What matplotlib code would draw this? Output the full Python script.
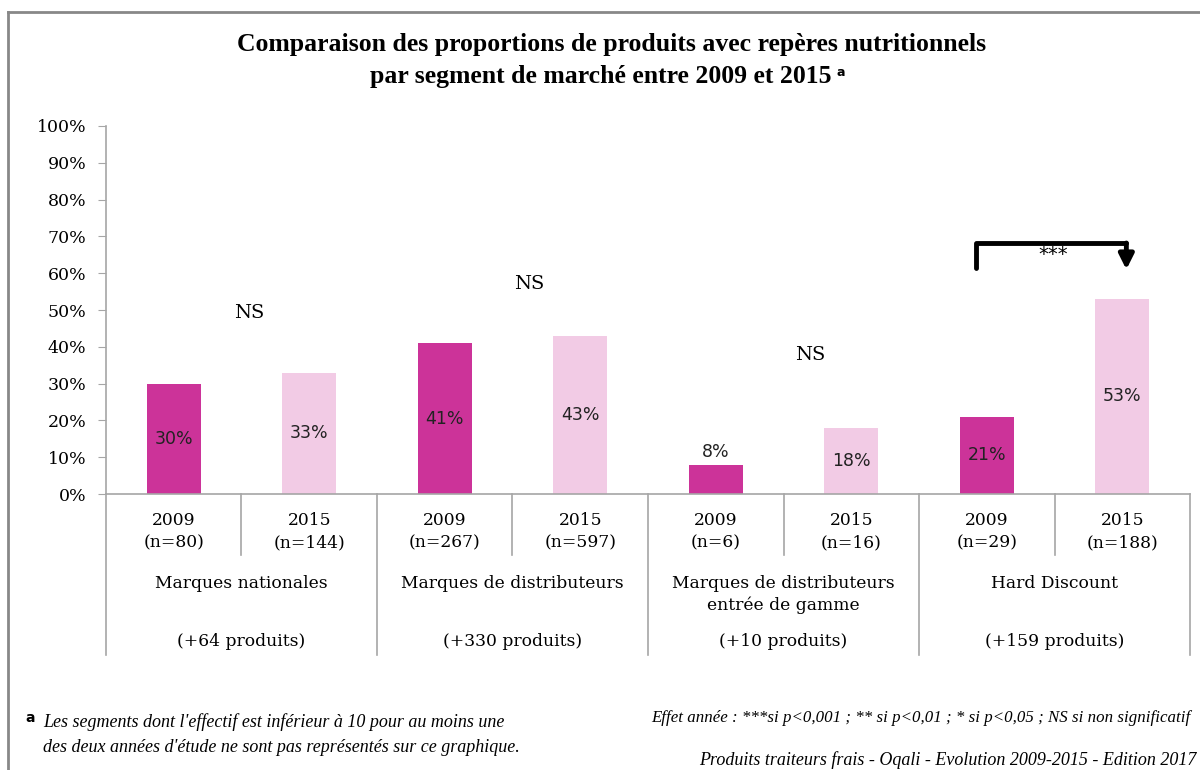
import matplotlib.pyplot as plt
from matplotlib.lines import Line2D

# Data
segments = ['Marques nationales', 'Marques de distributeurs',
            'Marques de distributeurs\nentrée de gamme', 'Hard Discount']
extra_products = ['(+64 produits)', '(+330 produits)', '(+10 produits)', '(+159 produits)']
years = ['2009', '2015'] * 4
sample_sizes = [80, 144, 267, 597, 6, 16, 29, 188]
values = [30, 33, 41, 43, 8, 18, 21, 53]
signif = ['NS', 'NS', 'NS', '***']

dark = '#CC3399'
light = '#F2CBE5'
grey = '#A6A6A6'
serif = 'DejaVu Serif'

fig = plt.figure(figsize=(12, 7.7), dpi=100)
ax = fig.add_axes([0.0883, 0.3584, 0.9034, 0.478])

x = list(range(len(values)))
colors = [dark if y == '2009' else light for y in years]
ax.bar(x, values, width=0.4, color=colors, zorder=2)

for xi, v in zip(x, values):
    if v < 10:
        ax.text(xi, v + 3.5, f'{v}%', ha='center', va='center', fontsize=12.5, color='#222222')
    else:
        ax.text(xi, v / 2, f'{v}%', ha='center', va='center', fontsize=12.5, color='#222222')

ax.set_xlim(-0.5, 7.5)
ax.set_ylim(0, 100)
ax.set_yticks(range(0, 101, 10))
ax.set_yticklabels([f'{t}%' for t in range(0, 101, 10)], family=serif, fontsize=12.5)
ax.set_xticks([])
ax.tick_params(axis='y', direction='out', length=6, color=grey, pad=8)
for s in ['top', 'right']:
    ax.spines[s].set_visible(False)
for s in ['left', 'bottom']:
    ax.spines[s].set_color(grey)
    ax.spines[s].set_linewidth(1.2)

# category axis below the plot
for i in range(len(values) + 1):
    bottom = -43.75 if i % 2 == 0 else -16.6
    ax.plot([i - 0.5, i - 0.5], [0, bottom], color=grey, lw=1.2, clip_on=False)
for xi, yr, n in zip(x, years, sample_sizes):
    ax.text(xi, -7.1, yr, ha='center', va='center', family=serif, fontsize=12.3)
    ax.text(xi, -13.4, f'(n={n})', ha='center', va='center', family=serif, fontsize=12.3)
for g, (seg, extra) in enumerate(zip(segments, extra_products)):
    ax.text(2 * g + 0.5, -22.1, seg, ha='center', va='top', family=serif,
            fontsize=12.3, linespacing=1.3)
    ax.text(2 * g + 0.5, -40.0, extra, ha='center', va='center', family=serif, fontsize=12.3)

# significance labels
ns_pos = [(0.555, 49.2), (2.62, 57.0), (4.70, 37.8)]
for (px, py), lab in zip(ns_pos, signif[:3]):
    ax.text(px, py, lab, ha='center', va='center', family=serif, fontsize=14)

ax.plot([5.92, 5.92, 7.03], [61.5, 68.2, 68.2], color='black', lw=3.5,
        solid_capstyle='round', solid_joinstyle='round', clip_on=False)
ax.annotate('', xy=(7.03, 61.0), xytext=(7.03, 68.2),
            arrowprops=dict(arrowstyle='-|>', lw=3.5, color='black', mutation_scale=22,
                            shrinkA=0, shrinkB=0))
ax.text(6.49, 65.0, signif[3], ha='center', va='center', fontsize=14)

# title
fig.text(0.51, 0.9416, 'Comparaison des proportions de produits avec repères nutritionnels',
         ha='center', va='center', family='Liberation Serif', fontweight='bold', fontsize=18.5)
t2 = fig.text(0.501, 0.901, 'par segment de marché entre 2009 et 2015',
              ha='center', va='center', family='Liberation Serif', fontweight='bold',
              fontsize=18.5)
fig.canvas.draw()
bb = t2.get_window_extent(fig.canvas.get_renderer())
fig.text(bb.x1 / fig.bbox.width + 0.004, 0.906, 'a', ha='left', va='center',
         family='DejaVu Sans', fontweight='bold', fontsize=9)

# footnotes
fig.text(0.021, 0.068, 'a', ha='left', va='center', family='DejaVu Sans',
         fontweight='bold', fontsize=10)
fig.text(0.036, 0.074, "Les segments dont l'effectif est inférieur à 10 pour au moins une\n"
         "des deux années d'étude ne sont pas représentés sur ce graphique.",
         ha='left', va='top', family='Liberation Serif', style='italic',
         fontsize=13, linespacing=1.6)
fig.text(0.992, 0.068, 'Effet année : ***si p<0,001 ; ** si p<0,01 ; * si p<0,05 ; NS si non significatif',
         ha='right', va='center', family='Liberation Serif', style='italic', fontsize=12.2)
fig.text(0.997, 0.013, 'Produits traiteurs frais - Oqali - Evolution 2009-2015 - Edition 2017',
         ha='right', va='center', family='Liberation Serif', style='italic', fontsize=13)

# frame
fig.add_artist(Line2D([0.0067, 1.0], [0.984, 0.984], color='#888888', lw=2))
fig.add_artist(Line2D([0.0067, 0.0067], [0.0, 0.984], color='#888888', lw=2))

fig.savefig('out.png', dpi=100)
